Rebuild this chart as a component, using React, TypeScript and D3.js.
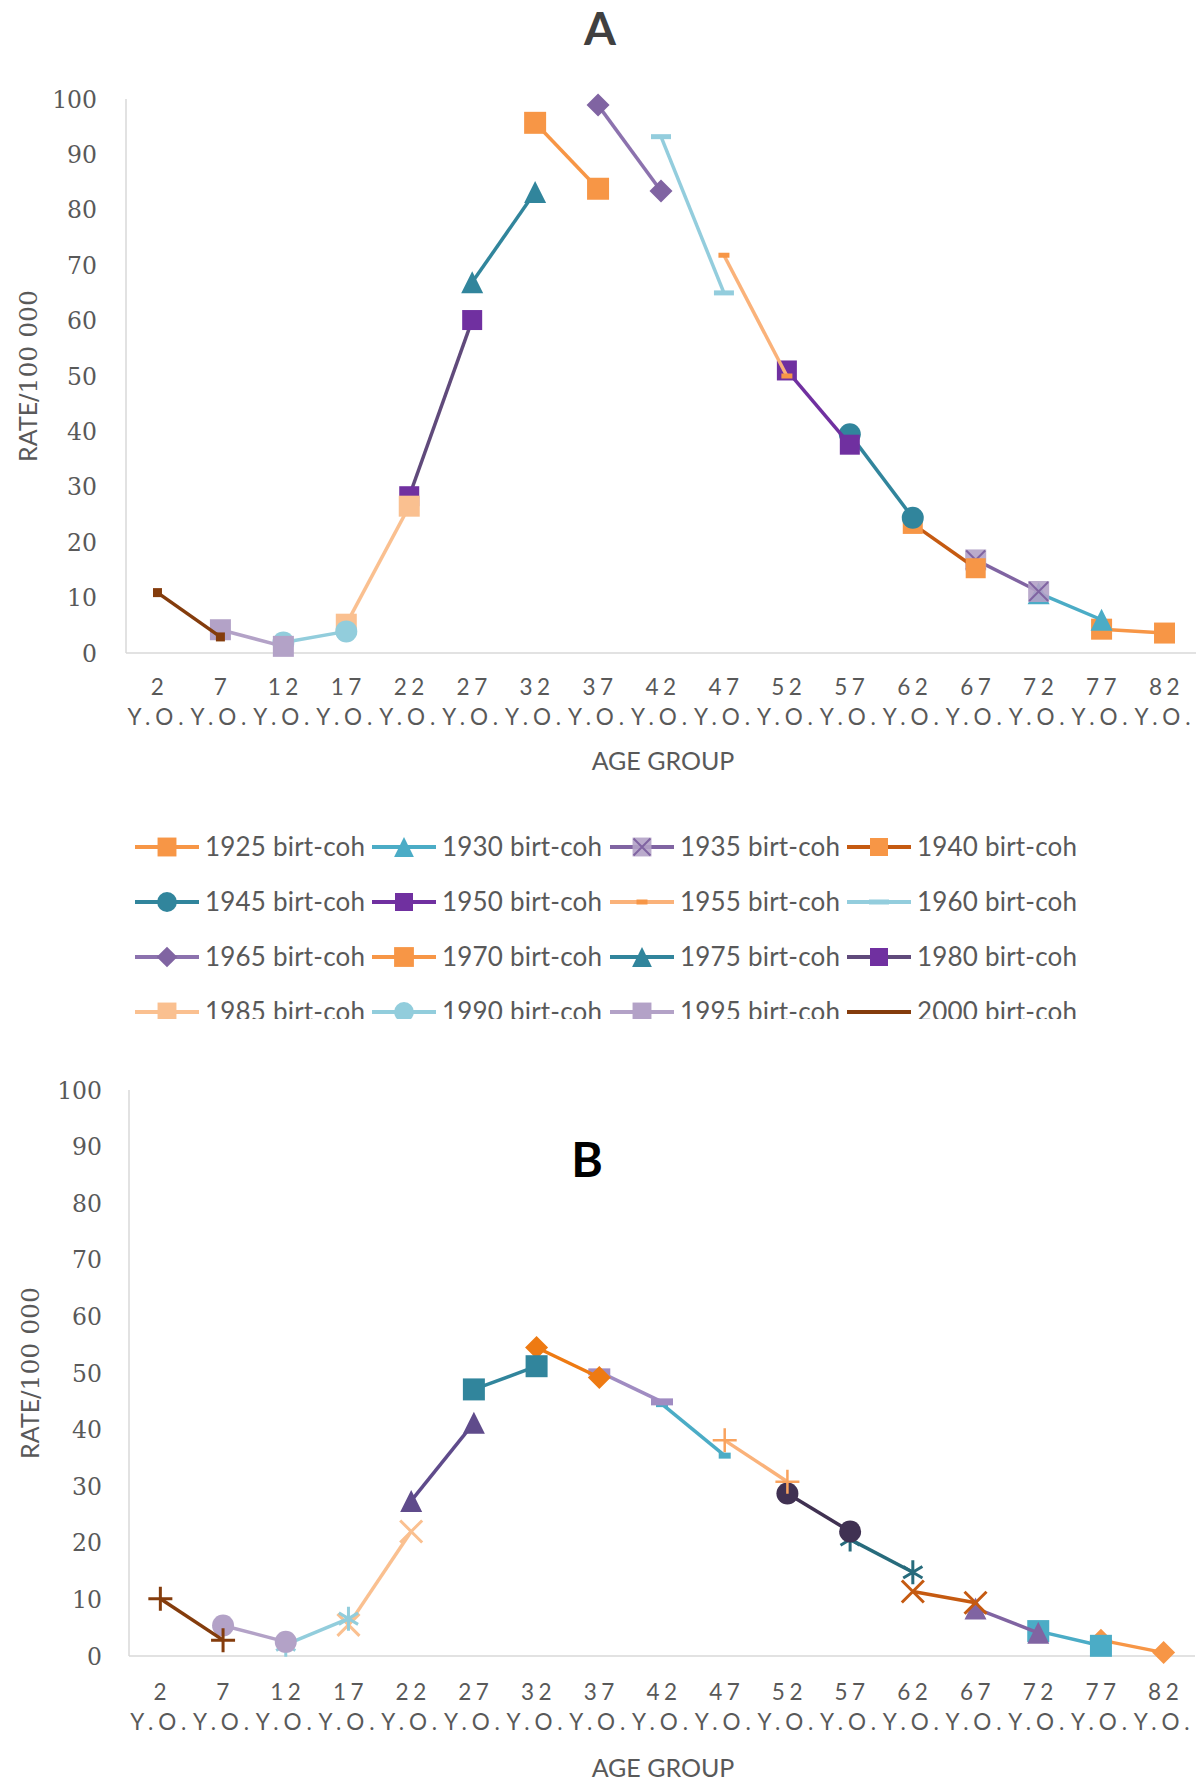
import * as d3 from 'd3';

// Age groups on the x axis (labels are drawn as "NN" over "Y.O.")
const AGE_GROUPS = ['2', '7', '12', '17', '22', '27', '32', '37', '42', '47', '52', '57', '62', '67', '72', '77', '82'];
const Y_TICKS = [0, 10, 20, 30, 40, 50, 60, 70, 80, 90, 100];

const COHORTS = ['1925', '1930', '1935', '1940', '1945', '1950', '1955', '1960',
  '1965', '1970', '1975', '1980', '1985', '1990', '1995', '2000'];

// each birth cohort is seen in two consecutive age groups
const COHORT_AGES = [
  ['77', '82'], ['72', '77'], ['67', '72'], ['62', '67'], ['57', '62'], ['52', '57'], ['47', '52'], ['42', '47'],
  ['37', '42'], ['32', '37'], ['27', '32'], ['22', '27'], ['17', '22'], ['12', '17'], ['7', '12'], ['2', '7'],
];

// panel A rates per 100 000
const RATES_A = [
  [4.3, 3.6], [10.8, 6.0], [16.8, 11.1], [23.3, 15.3], [39.5, 24.4], [51.0, 37.6], [71.8, 50.0], [93.2, 65.0],
  [98.9, 83.4], [95.7, 83.8], [66.9, 83.2], [28.3, 60.1], [5.2, 26.5], [1.9, 3.9], [4.2, 1.2], [10.9, 2.9],
];

// panel B rates per 100 000
const RATES_B = [
  [2.8, 0.6], [4.4, 1.8], [8.4, 4.1], [11.4, 9.4], [20.6, 14.8], [28.7, 22.0], [38.1, 30.8], [44.5, 35.4],
  [50.2, 44.9], [54.5, 49.2], [47.1, 51.2], [27.4, 41.2], [5.5, 22.0], [2.0, 6.6], [5.4, 2.5], [10.1, 2.8],
];

type Marker = {
  shape: 'square' | 'circle' | 'triangle' | 'diamond' | 'rect' | 'plus' | 'x' | 'asterisk' | 'xsquare' | 'none';
  fill?: string;
  stroke?: string;
  size?: number;
  w?: number;
  h?: number;
  sw?: number;
};
type SeriesStyle = { line: string; marker: Marker; legend?: boolean };

const STYLES_A: SeriesStyle[] = [
  { line: '#F79646', marker: { shape: 'square', fill: '#F79646', size: 21 } },
  { line: '#4BACC6', marker: { shape: 'triangle', fill: '#4BACC6', size: 22 } },
  { line: '#8064A2', marker: { shape: 'xsquare', fill: '#B3A2C7', stroke: '#8064A2', size: 21 } },
  { line: '#C55A11', marker: { shape: 'square', fill: '#F79646', size: 20 } },
  { line: '#31859C', marker: { shape: 'circle', fill: '#31859C', size: 22 } },
  { line: '#7030A0', marker: { shape: 'square', fill: '#7030A0', size: 20 } },
  { line: '#FAB27A', marker: { shape: 'rect', fill: '#F79646', w: 11, h: 5 } },
  { line: '#93CDDD', marker: { shape: 'rect', fill: '#93CDDD', w: 20, h: 5 } },
  { line: '#8C72AE', marker: { shape: 'diamond', fill: '#8064A2', size: 23 } },
  { line: '#F79646', marker: { shape: 'square', fill: '#F79646', size: 22 } },
  { line: '#31859C', marker: { shape: 'triangle', fill: '#31859C', size: 22 } },
  { line: '#604A7B', marker: { shape: 'square', fill: '#7030A0', size: 20 } },
  { line: '#FAC090', marker: { shape: 'square', fill: '#FAC090', size: 21 } },
  { line: '#92CDDC', marker: { shape: 'circle', fill: '#92CDDC', size: 22 } },
  { line: '#B3A2C7', marker: { shape: 'square', fill: '#B3A2C7', size: 21 } },
  { line: '#843C0C', marker: { shape: 'square', fill: '#843C0C', size: 9 }, legend: false },
];

const STYLES_B: SeriesStyle[] = [
  { line: '#F79646', marker: { shape: 'diamond', fill: '#F79646', size: 23 } },
  { line: '#4BACC6', marker: { shape: 'square', fill: '#4BACC6', size: 22 } },
  { line: '#8064A2', marker: { shape: 'triangle', fill: '#8064A2', size: 22 } },
  { line: '#C55A11', marker: { shape: 'x', stroke: '#C55A11', size: 22, sw: 3 } },
  { line: '#276B7C', marker: { shape: 'asterisk', stroke: '#276B7C', size: 24, sw: 3 } },
  { line: '#403152', marker: { shape: 'circle', fill: '#403152', size: 22 } },
  { line: '#FAB27A', marker: { shape: 'plus', stroke: '#F9A35E', size: 24, sw: 2.5 } },
  { line: '#4BACC6', marker: { shape: 'rect', fill: '#4BACC6', w: 12, h: 6 } },
  { line: '#A08CC2', marker: { shape: 'rect', fill: '#A08CC2', w: 22, h: 7 } },
  { line: '#EE7A12', marker: { shape: 'diamond', fill: '#EE7A12', size: 23 } },
  { line: '#31859C', marker: { shape: 'square', fill: '#31859C', size: 22 } },
  { line: '#5F4B8B', marker: { shape: 'triangle', fill: '#5F4B8B', size: 22 } },
  { line: '#FAC090', marker: { shape: 'x', stroke: '#FAC090', size: 22, sw: 3 } },
  { line: '#92CDDC', marker: { shape: 'asterisk', stroke: '#92CDDC', size: 24, sw: 3 } },
  { line: '#B3A2C7', marker: { shape: 'circle', fill: '#B3A2C7', size: 22 } },
  { line: '#843C0C', marker: { shape: 'plus', stroke: '#843C0C', size: 24, sw: 3 } },
];

const SANS = 'Lato, "Open Sans", sans-serif';
const SERIF = '"DejaVu Serif", "Liberation Serif", serif';
const TEXT = '#595959';
const AXIS = '#D9D9D9';

function markerPath(m: Marker): string {
  const s = m.size ?? 20;
  const h = s / 2;
  switch (m.shape) {
    case 'square':
    case 'xsquare':
      return `M${-h},${-h}h${s}v${s}h${-s}Z`;
    case 'circle':
      return d3.symbol(d3.symbolCircle, Math.PI * h * h)() as string;
    case 'triangle':
      return `M0,${-h}L${h},${h}L${-h},${h}Z`;
    case 'diamond':
      return `M0,${-h}L${h},0L0,${h}L${-h},0Z`;
    case 'rect':
      return `M${-(m.w ?? 10) / 2},${-(m.h ?? 4) / 2}h${m.w}v${m.h}h${-(m.w ?? 10)}Z`;
    case 'plus':
      return `M${-h},0H${h}M0,${-h}V${h}`;
    case 'x':
      return `M${-h},${-h}L${h},${h}M${-h},${h}L${h},${-h}`;
    case 'asterisk': {
      const d = h * 0.8;
      return `M0,${-h}V${h}M${-d},${-d * 0.6}L${d},${d * 0.6}M${-d},${d * 0.6}L${d},${-d * 0.6}`;
    }
    default:
      return '';
  }
}

function MarkerShape({ m, x, y }: { m: Marker; x: number; y: number }) {
  if (m.shape === 'none') return null;
  const d = markerPath(m);
  const stroked = m.shape === 'plus' || m.shape === 'x' || m.shape === 'asterisk';
  if (m.shape === 'xsquare') {
    const h = (m.size ?? 20) / 2 - 1;
    return (
      <g transform={`translate(${x},${y})`}>
        <path d={d} fill={m.fill} opacity={0.9} />
        <path d={`M${-h},${-h}L${h},${h}M${-h},${h}L${h},${-h}`} stroke={m.stroke} strokeWidth={2} fill="none" />
      </g>
    );
  }
  return (
    <path
      d={d}
      transform={`translate(${x},${y})`}
      fill={stroked ? 'none' : m.fill}
      stroke={stroked ? m.stroke : 'none'}
      strokeWidth={stroked ? m.sw ?? 2.5 : 0}
    />
  );
}

type Layout = {
  left: number;
  right: number;
  top: number;
  bottom: number;
  yLabelX: number;
  titleX: number;
  rowY1: number;
  rowY2: number;
  xTitleY: number;
};

function Panel({ rates, styles, layout }: { rates: number[][]; styles: SeriesStyle[]; layout: Layout }) {
  const x = d3.scalePoint<string>().domain(AGE_GROUPS).range([layout.left, layout.right]).padding(0.5);
  const y = d3.scaleLinear().domain([0, 100]).range([layout.bottom, layout.top]);
  const line = d3.line<[number, number]>();
  const midY = (layout.top + layout.bottom) / 2;

  return (
    <g>
      <line x1={layout.left} x2={layout.left} y1={y(100)} y2={y(0)} stroke={AXIS} strokeWidth={1.5} />
      <line x1={layout.left} x2={layout.right} y1={y(0)} y2={y(0)} stroke={AXIS} strokeWidth={1.5} />
      {Y_TICKS.map((t) => (
        <text key={t} x={layout.yLabelX} y={y(t) + 8.5} textAnchor="end" fontFamily={SERIF} fontSize={23.5} fill={TEXT}>
          {t}
        </text>
      ))}
      {AGE_GROUPS.map((a) => (
        <g key={a} fill={TEXT} fontFamily={SANS} fontSize={22.5}>
          <text x={(x(a) ?? 0) + 2} y={layout.rowY1} textAnchor="middle" letterSpacing={4.5}>
            {a}
          </text>
          <text x={(x(a) ?? 0) - 2} y={layout.rowY2} textAnchor="middle" textLength={56} lengthAdjust="spacing">
            Y.O.
          </text>
        </g>
      ))}
      <text x={663} y={layout.xTitleY} textAnchor="middle" fontFamily={SANS} fontSize={25} fill={TEXT}>
        AGE GROUP
      </text>
      <text transform={`translate(${layout.titleX},${midY}) rotate(-90)`} textAnchor="middle" fontSize={25} fill={TEXT}>
        <tspan fontFamily={SANS}>RATE</tspan>
        <tspan fontFamily={SERIF}>/100 000</tspan>
      </text>
      {rates.map((vals, i) => {
        const st = styles[i];
        const pts = COHORT_AGES[i].map((a, j) => [x(a) ?? 0, y(vals[j])] as [number, number]);
        return (
          <g key={COHORTS[i]}>
            <path d={line(pts) ?? ''} fill="none" stroke={st.line} strokeWidth={3.5} strokeLinejoin="round" />
            {pts.map(([px, py], j) => (
              <MarkerShape key={j} m={st.marker} x={px} y={py} />
            ))}
          </g>
        );
      })}
    </g>
  );
}

const LAYOUT_A: Layout = {
  left: 126, right: 1196, top: 99, bottom: 653, yLabelX: 97, titleX: 37, rowY1: 695, rowY2: 725, xTitleY: 770,
};
const LAYOUT_B: Layout = {
  left: 129, right: 1195, top: 1090, bottom: 1656, yLabelX: 102, titleX: 39, rowY1: 1700, rowY2: 1730, xTitleY: 1777,
};

const LEGEND_COLS = [135, 372, 610, 847];
const LEGEND_ROWS = [847, 902, 957, 1012];

function Legend() {
  return (
    <g clipPath="url(#clipA)">
      {COHORTS.map((c, i) => {
        const lx = LEGEND_COLS[i % 4];
        const ly = LEGEND_ROWS[Math.floor(i / 4)];
        const st = STYLES_A[i];
        return (
          <g key={c}>
            <line x1={lx} x2={lx + 64} y1={ly} y2={ly} stroke={st.line} strokeWidth={4} />
            {st.legend !== false && <MarkerShape m={{ ...st.marker, size: (st.marker.size ?? 18) * 0.9 }} x={lx + 32} y={ly} />}
            <text x={lx + 70} y={ly + 9} fontFamily={SANS} fontSize={26} fill={TEXT} textLength={160} lengthAdjust="spacing">
              {c} birt-coh
            </text>
          </g>
        );
      })}
    </g>
  );
}

export default function App() {
  return (
    <div style={{ position: 'absolute', left: 0, top: 0 }}>
      <svg width={1200} height={1784} viewBox="0 0 1200 1784" style={{ display: 'block', background: '#fff' }}>
        <defs>
          <clipPath id="clipA">
            <rect x={0} y={0} width={1200} height={1019} />
          </clipPath>
        </defs>
        <rect width={1200} height={1784} fill="#fff" />
        <text x={600} y={45} textAnchor="middle" fontFamily={SANS} fontWeight={700} fontSize={46} fill="#404040">
          A
        </text>
        <Panel rates={RATES_A} styles={STYLES_A} layout={LAYOUT_A} />
        <Legend />
        <text x={587} y={1177} textAnchor="middle" fontFamily={SANS} fontWeight={700} fontSize={48} fill="#000">
          B
        </text>
        <Panel rates={RATES_B} styles={STYLES_B} layout={LAYOUT_B} />
      </svg>
    </div>
  );
}
